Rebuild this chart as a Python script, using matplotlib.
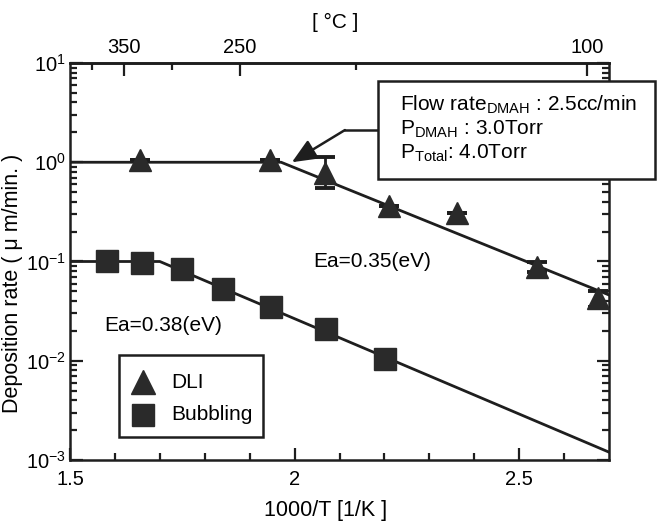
import matplotlib
matplotlib.use("Agg")
from matplotlib import pyplot as plt
from matplotlib.patches import Rectangle
from matplotlib.ticker import FixedLocator, LogLocator, NullFormatter
import numpy as np

plt.rcParams["font.family"] = ["Liberation Sans", "DejaVu Sans"]
plt.rcParams["mathtext.fontset"] = "custom"
plt.rcParams["mathtext.rm"] = "Liberation Sans"
plt.rcParams["mathtext.it"] = "Liberation Sans:italic"
plt.rcParams["mathtext.bf"] = "Liberation Sans:bold"

# DLI data (1000/T, deposition rate um/min)
dli_x = [1.656, 1.945, 2.068, 2.210, 2.362, 2.540, 2.676]
dli_y = [1.05, 1.05, 0.78, 0.36, 0.31, 0.088, 0.043]
dli_err_lo = [0, 0, 0.23, 0, 0, 0.010, 0.008]
dli_err_hi = [0, 0, 0.34, 0, 0, 0.010, 0.008]

# Bubbling data
bub_x = [1.582, 1.660, 1.749, 1.841, 1.948, 2.070, 2.202]
bub_y = [0.100, 0.097, 0.084, 0.053, 0.035, 0.021, 0.0105]

# fitted lines
dli_line_x = [1.5, 1.97, 2.7]
dli_line_y = [1.0, 1.0, 0.046]
bub_line_x = [1.5, 1.70, 2.7]
bub_line_y = [0.1, 0.1, 0.0012]

# top axis (deg C) as drawn in the original
top_major_pos = [1.620, 1.878, 2.651]
top_major_lab = ["350", "250", "100"]
top_minor_pos = [1.549, 1.727, 2.136]

y_ticks = [1e-3, 1e-2, 1e-1, 1e0, 1e1]
y_labels = [r"$\mathregular{10^{-3}}$", r"$\mathregular{10^{-2}}$",
            r"$\mathregular{10^{-1}}$", r"$\mathregular{10^{0}}$",
            r"$\mathregular{10^{1}}$"]

info_lines = [r"Flow rate$_{\mathregular{DMAH}}$ : 2.5cc/min",
              r"P$_{\mathregular{DMAH}}$ : 3.0Torr",
              r"P$_{\mathregular{Total}}$: 4.0Torr"]

W, H = 657, 523
fig = plt.figure(figsize=(W / 100, H / 100), dpi=100)
ax = fig.add_axes([70 / W, 1 - 460 / H, 539 / W, 397 / H])

ink = "#1e1e1e"
ax.plot(dli_line_x, dli_line_y, color=ink, lw=2, zorder=2)
ax.plot(bub_line_x, bub_line_y, color=ink, lw=2, zorder=2)
ax.errorbar(dli_x, dli_y, yerr=[dli_err_lo, dli_err_hi], fmt="^", ms=16,
            color="#2a2a2a", ecolor=ink, elinewidth=2, capsize=7,
            capthick=2.8, zorder=3)
ax.plot(bub_x, bub_y, "s", ms=16.5, color="#2a2a2a", zorder=3)

ax.set_yscale("log")
ax.set_xlim(1.5, 2.7)
ax.set_ylim(1e-3, 1e1)
ax.yaxis.set_major_locator(FixedLocator(y_ticks))
ax.set_yticklabels(y_labels)
ax.yaxis.set_minor_locator(LogLocator(base=10, subs=np.arange(2, 10)))
ax.yaxis.set_minor_formatter(NullFormatter())
ax.set_xticks([1.5, 2.0, 2.5], ["1.5", "2", "2.5"])
ax.set_xticks(np.arange(1.6, 2.7, 0.1), minor=True)

ax.tick_params(which="both", direction="in", width=1.6, labelsize=14.5,
               top=False, right=True, bottom=True, left=True, color=ink)
ax.tick_params(which="major", length=9)
ax.tick_params(which="minor", length=5)
ax.tick_params(axis="x", pad=7)
ax.tick_params(axis="y", pad=3)
for s in ax.spines.values():
    s.set_linewidth(1.8)
    s.set_color(ink)

sec = ax.secondary_xaxis("top")
sec.set_xticks(top_major_pos, top_major_lab)
sec.set_xticks(top_minor_pos, minor=True)
sec.tick_params(which="both", direction="in", width=1.6, labelsize=14.5,
                pad=4, color=ink)
sec.tick_params(which="major", length=9)
sec.tick_params(which="minor", length=5)
sec.spines["top"].set_linewidth(1.8)

ax.set_xlabel("1000/T [1/K ]", fontsize=15.5)
ax.xaxis.set_label_coords(0.475, -0.1)
ax.set_ylabel("Deposition rate ( \u03bc m/min. )", fontsize=15.5)
ax.yaxis.set_label_coords(-0.088, 0.446)
fig.text(335 / W, 1 - 22 / H, "[ \u00b0C ]", fontsize=15,
         ha="center", va="center")

ax.text(2.173, 0.099, "Ea=0.35(eV)", fontsize=15, ha="center", va="center")
ax.text(1.707, 0.0224, "Ea=0.38(eV)", fontsize=15, ha="center", va="center")

# legend drawn by hand
lx0, lx1 = (119 - 70) / 539, (263 - 70) / 539
ly0, ly1 = (460 - 437) / 397, (460 - 355) / 397
ax.add_patch(Rectangle((lx0, ly0), lx1 - lx0, ly1 - ly0, transform=ax.transAxes,
                       facecolor="white", edgecolor=ink, lw=1.8, zorder=4))
for lab, mk, ms, ypx in [("DLI", "^", 17, 382), ("Bubbling", "s", 16, 415)]:
    yy = (460 - ypx) / 397
    ax.plot([(143 - 70) / 539], [yy], mk, ms=ms, color="#2a2a2a",
            transform=ax.transAxes, zorder=5)
    ax.text((171 - 70) / 539, yy, lab, fontsize=15, va="center", ha="left",
            transform=ax.transAxes, zorder=5)

# leader line from the info box to the DLI curve
ax.annotate("", xy=(1.994, 1.0), xytext=(2.112, 2.11),
            arrowprops=dict(arrowstyle="-|>,head_length=1.5,head_width=0.65",
                            color=ink, lw=1.8, shrinkA=0, shrinkB=0),
            zorder=4)
ax.plot([2.112, 2.19], [2.11, 2.11], color=ink, lw=1.8, clip_on=False,
        zorder=4)

fig.patches.append(Rectangle((378 / W, 1 - 179 / H), (655 - 378) / W,
                             (179 - 81) / H, transform=fig.transFigure,
                             facecolor="white", edgecolor=ink, lw=1.8,
                             zorder=5))
for i, line in enumerate(info_lines):
    fig.text(400 / W, 1 - (105 + 24 * i) / H, line, fontsize=15,
             ha="left", va="center", zorder=6)

fig.savefig("out.png", dpi=100)
